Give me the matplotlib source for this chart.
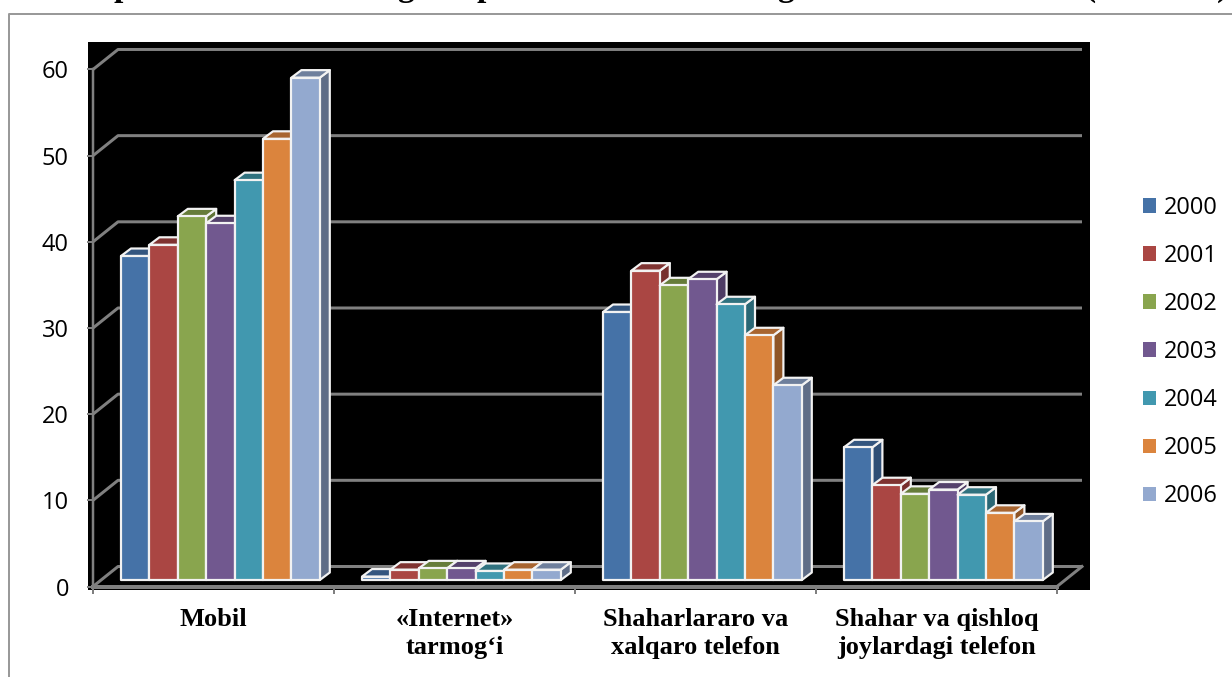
import matplotlib
matplotlib.use("Agg")
from matplotlib import pyplot as plt
from matplotlib.lines import Line2D
from matplotlib.patches import Patch, Polygon

# data
categories = ["Mobil", "«Internet»\ntarmog‘i", "Shaharlararo va\nxalqaro telefon", "Shahar va qishloq\njoylardagi telefon"]
years = ["2000", "2001", "2002", "2003", "2004", "2005", "2006"]
y2000 = [37.6, 0.4, 31.1, 15.4]
y2001 = [38.9, 1.2, 35.9, 11.0]
y2002 = [42.2, 1.35, 34.2, 10.0]
y2003 = [41.4, 1.35, 34.9, 10.5]
y2004 = [46.4, 1.05, 32.0, 9.9]
y2005 = [51.2, 1.2, 28.4, 7.8]
y2006 = [58.3, 1.2, 22.6, 6.8]
series = [y2000, y2001, y2002, y2003, y2004, y2005, y2006]
y_ticks = [0, 10, 20, 30, 40, 50, 60]

colors = ["#4572A7", "#AA4643", "#89A54E", "#71588F", "#4198AF", "#DB843D", "#93A9CF"]
side_colors = ["#2E4E75", "#772F2D", "#5F7336", "#4E3C64", "#2A6775", "#8F5526", "#5F6D87"]
top_colors = ["#34567F", "#7F3331", "#667C3A", "#54416B", "#30727F", "#A86530", "#6E7F9C"]

W, H = 1232, 677
GREY = "#808080"
PX = 0.72  # points per pixel at dpi 100

# pixel geometry of the plot
left, right, top, bottom = 88, 1090, 42, 590
x0, y0 = 93, 586.5
cat_px = 241
val_px = 8.617


def to_x(px):
    return px / cat_px


def to_y(px):
    return px / val_px


fig = plt.figure(figsize=(W / 100, H / 100), dpi=100, facecolor="white")
ax = fig.add_axes([left / W, 1 - bottom / H, (right - left) / W, (bottom - top) / H], facecolor="black")
ax.set_xlim((left - x0) / cat_px, (right - x0) / cat_px)
ax.set_ylim((y0 - bottom) / val_px, (y0 - top) / val_px)

# back wall and floor
wall_dx, wall_dy = to_x(25), to_y(20)
for v in y_ticks:
    ax.plot([0, wall_dx, len(categories) + wall_dx], [v, v + wall_dy, v + wall_dy],
            color=GREY, lw=3 * PX, solid_capstyle="butt", zorder=1)
ax.plot([len(categories), len(categories) + wall_dx], [0, wall_dy], color=GREY, lw=3 * PX, zorder=1)

# bars
base = to_y(6.5)
bar_w = to_x(28.4)
bar_start = to_x(28)
depth_x, depth_y = to_x(10), to_y(7.5)
edge = dict(edgecolor="#F2F2F2", linewidth=2.2 * PX, joinstyle="round")

for c in range(len(categories)):
    for s, values in enumerate(series):
        l = c + bar_start + s * bar_w
        r = l + bar_w
        t = base + values[c]
        z = 2 + c * 10 + s
        ax.add_patch(Polygon([(r, base), (r + depth_x, base + depth_y), (r + depth_x, t + depth_y), (r, t)],
                             facecolor=side_colors[s], zorder=z, **edge))
        ax.add_patch(Polygon([(l, t), (r, t), (r + depth_x, t + depth_y), (l + depth_x, t + depth_y)],
                             facecolor=top_colors[s], zorder=z, **edge))
        ax.bar(l, values[c], width=bar_w, bottom=base, align="edge", color=colors[s], zorder=z + 0.5, **edge)

# axes
for name in ["top", "right"]:
    ax.spines[name].set_visible(False)
ax.spines["left"].set_position(("data", 0))
ax.spines["bottom"].set_position(("data", 0))
ax.spines["left"].set_bounds(0, 60)
ax.spines["bottom"].set_bounds(0, len(categories))
ax.spines["left"].set(color=GREY, linewidth=2.5 * PX, zorder=1.5)
ax.spines["bottom"].set(color=GREY, linewidth=4 * PX, zorder=100)

ax.set_yticks(y_ticks)
ax.set_xticks(range(len(categories) + 1), [""] * (len(categories) + 1))
ax.set_xticks([i + 0.5 for i in range(len(categories))], categories, minor=True)
ax.tick_params(axis="y", direction="out", length=6 * PX, width=2 * PX, color=GREY, pad=13, labelsize=17)
ax.tick_params(axis="x", which="major", direction="out", length=7 * PX, width=2 * PX, color=GREY)
ax.tick_params(axis="x", which="minor", length=0, pad=15.5)
for lab in ax.get_yticklabels():
    lab.set_fontfamily("Open Sans")
    lab.set_verticalalignment("center_baseline")
for lab in ax.get_xticklabels(minor=True):
    lab.set_fontfamily("Liberation Serif")
    lab.set_fontweight("bold")
    lab.set_fontsize(19)
    lab.set_linespacing(1.25)
    lab.set_color("black")

handles = [Patch(facecolor=col, edgecolor="none") for col in colors]
fig.legend(handles, years, loc="center left", bbox_to_anchor=(1143 / W, 1 - 352 / H), borderpad=0, borderaxespad=0,
           frameon=False, prop={"family": "Open Sans", "size": 17}, handlelength=0.56, handleheight=0.56,
           handletextpad=0.33, labelspacing=1.02)

# outer frame of the chart
fig.add_artist(Line2D([9 / W, 9 / W, 1], [0, 1 - 13.5 / H, 1 - 13.5 / H], color="#999999", lw=2 * PX))

# only the descenders of the heading are left in the crop
title_bits = ["p", "g", "p", "g", "(", ")"]
title_px = [123, 405, 486, 785, 1090, 1222]
for bit, px in zip(title_bits, title_px):
    fig.text(px / W, 1 + 4 / H, bit, family="Liberation Serif", weight="bold", fontsize=24,
             ha="center", va="baseline")

fig.savefig("out.png", dpi=100)
